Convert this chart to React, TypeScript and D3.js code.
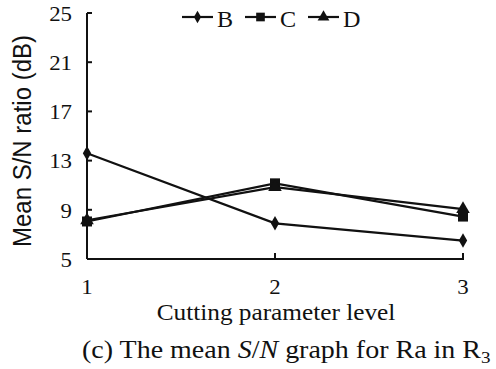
import React from "react";
import * as d3 from "d3";

const levels = [1, 2, 3];
const seriesB = [13.6, 7.9, 6.5];
const seriesC = [8.05, 11.15, 8.45];
const seriesD = [8.15, 10.85, 9.05];
const yTicks = [5, 9, 13, 17, 21, 25];
const seriesNames = ["B", "C", "D"];
const markerTypes = ["diamond", "square", "triangle"];

const W = 496;
const H = 369;
const SERIF = "'Liberation Serif', 'Times New Roman', serif";
const SANS = "'Liberation Sans', Arial, sans-serif";

function Marker({ type, x, y, small }: { type: string; x: number; y: number; small?: boolean }) {
  const sym =
    type === "diamond" ? d3.symbolDiamond : type === "square" ? d3.symbolSquare : d3.symbolTriangle;
  let size = type === "diamond" ? 60 : type === "square" ? 100 : 80;
  if (small) size *= 0.75;
  const path = d3.symbol().type(sym).size(size)()!;
  return <path d={path} transform={`translate(${x},${y})`} fill="#111" />;
}

export default function App() {
  const x = d3.scaleLinear().domain([1, 3]).range([87, 463]);
  const y = d3.scaleLinear().domain([5, 25]).range([259, 13]);
  const allSeries = [seriesB, seriesC, seriesD];
  const line = d3
    .line<number>()
    .x((_, i) => x(levels[i]))
    .y((v) => y(v));

  const legendX = [182, 245, 308];

  return (
    <svg
      width={W}
      height={H}
      style={{ position: "absolute", left: 0, top: 0, background: "#fff" }}
      fontFamily={SERIF}
    >
      {/* axes */}
      <line x1={x(1)} x2={x(1)} y1={y(25)} y2={y(5)} stroke="#111" strokeWidth={2} />
      <line x1={x(1)} x2={x(3) + 1} y1={y(5)} y2={y(5)} stroke="#111" strokeWidth={2} />
      {yTicks.map((t) => (
        <g key={t}>
          <line x1={x(1)} x2={x(1) + 5} y1={y(t)} y2={y(t)} stroke="#111" strokeWidth={2} />
          <text
            transform={`translate(72,${y(t)}) scale(1.04,1)`}
            dy="0.35em"
            textAnchor="end"
            fontSize={22}
            fill="#111"
          >
            {t}
          </text>
        </g>
      ))}
      {levels.map((l) => (
        <g key={l}>
          <line x1={x(l)} x2={x(l)} y1={y(5)} y2={y(5) - 6} stroke="#111" strokeWidth={2} />
          <text
            transform={`translate(${x(l)},294) scale(1.04,1)`}
            textAnchor="middle"
            fontSize={22}
            fill="#111"
          >
            {l}
          </text>
        </g>
      ))}
      <text
        transform="translate(276,320) scale(1.1,1)"
        textAnchor="middle"
        fontSize={23}
        fill="#111"
      >
        Cutting parameter  level
      </text>
      <text
        transform="translate(31,141) scale(1.1,1) rotate(-90)"
        textAnchor="middle"
        fontSize={24}
        fontFamily={SANS}
        fill="#111"
      >
        Mean S/N ratio (dB)
      </text>

      {/* series */}
      {allSeries.map((s, si) => (
        <g key={si}>
          <path d={line(s)!} fill="none" stroke="#111" strokeWidth={2.2} />
          {s.map((v, i) => (
            <Marker key={i} type={markerTypes[si]} x={x(levels[i])} y={y(v)} />
          ))}
        </g>
      ))}

      {/* legend */}
      {seriesNames.map((n, i) => (
        <g key={n}>
          <line x1={legendX[i]} x2={legendX[i] + 31} y1={17} y2={17} stroke="#111" strokeWidth={2.2} />
          <Marker type={markerTypes[i]} x={legendX[i] + 15.5} y={17} small />
          <text
            transform={`translate(${legendX[i] + 35},27) scale(1.05,1)`}
            fontSize={23}
            fill="#111"
          >
            {n}
          </text>
        </g>
      ))}

      {/* caption */}
      <text transform="translate(82,358) scale(1.12,1)" fontSize={25} fill="#111">
        (c) The mean <tspan fontStyle="italic">S</tspan>/<tspan fontStyle="italic">N</tspan> graph for Ra in R
        <tspan fontSize={17} dy={5}>3</tspan>
      </text>
    </svg>
  );
}
